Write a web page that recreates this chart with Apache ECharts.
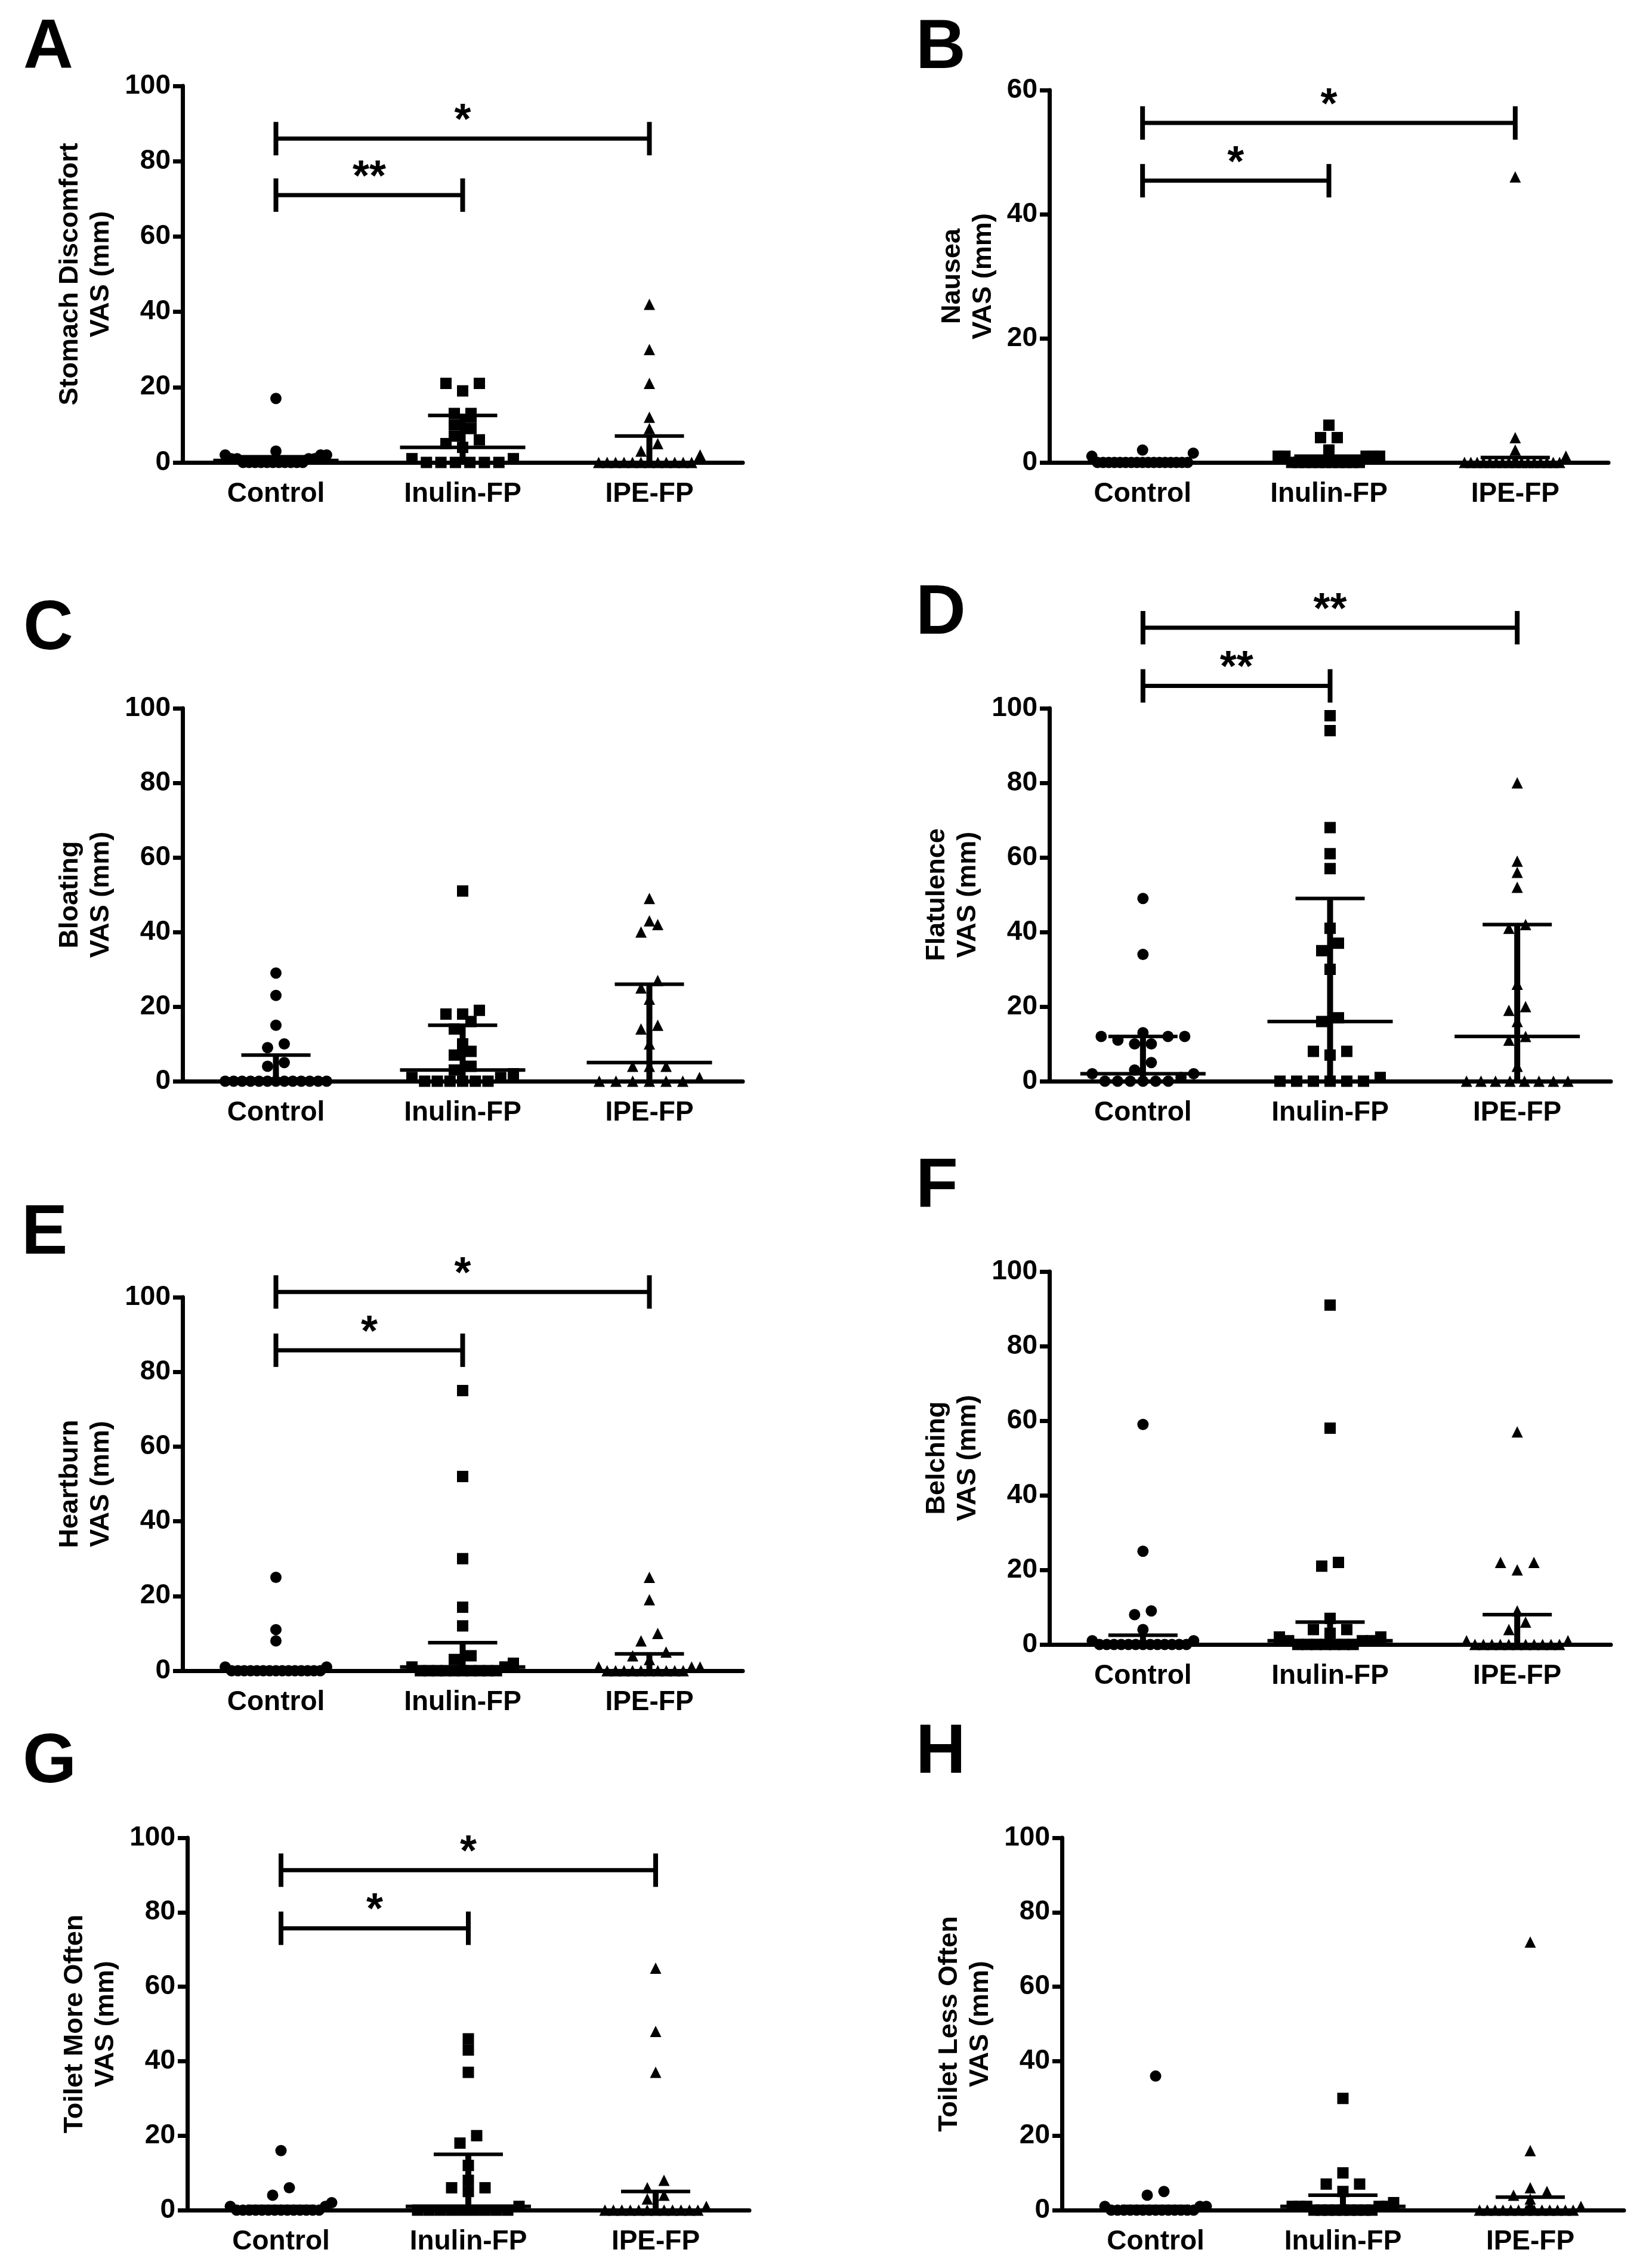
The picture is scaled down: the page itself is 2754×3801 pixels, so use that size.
<!DOCTYPE html>
<html>
<head>
<meta charset="utf-8">
<script src="https://cdn.jsdelivr.net/npm/echarts@6/dist/echarts.min.js"></script>
<style>
  html, body { margin: 0; padding: 0; background: #fff; }
  #chart { width: 2754px; height: 3801px; }
</style>
</head>
<body>
<div id="chart"></div>
<script>
const groups = ['Control', 'Inulin-FP', 'IPE-FP'];
const panelLetters = ['A', 'B', 'C', 'D', 'E', 'F', 'G', 'H'];
const axisTitles = [
  'Stomach Discomfort\nVAS (mm)', 'Nausea\nVAS (mm)',
  'Bloating\nVAS (mm)', 'Flatulence\nVAS (mm)',
  'Heartburn\nVAS (mm)', 'Belching\nVAS (mm)',
  'Toilet More Often\nVAS (mm)', 'Toilet Less Often\nVAS (mm)'
];
const yMax = [100, 60, 100, 100, 100, 100, 100, 100];

// individual scores per group: [Control, Inulin-FP, IPE-FP]
const stomachDiscomfort = [
  [17, 3, 2, 2, 2, 1, 1, 1, 1, 0, 0, 0, 0, 0, 0, 0, 0, 0, 0, 0],
  [21, 21, 19, 13, 13, 12, 10, 9, 7, 6, 5, 4, 1, 1, 0, 0, 0, 0, 0, 0],
  [42, 30, 21, 12, 9, 5, 3, 2, 0, 0, 0, 0, 0, 0, 0, 0, 0, 0, 0, 0]
];
const nausea = [
  [2, 1.5, 1, 0, 0, 0, 0, 0, 0, 0, 0, 0, 0, 0, 0, 0, 0, 0, 0, 0],
  [6, 4, 4, 2, 1, 1, 1, 1, 1, 0, 0, 0, 0, 0, 0, 0, 0, 0, 0, 0],
  [46, 4, 2, 1, 0, 0, 0, 0, 0, 0, 0, 0, 0, 0, 0, 0, 0, 0, 0, 0]
];
const bloating = [
  [29, 23, 15, 10, 9, 5, 4, 0, 0, 0, 0, 0, 0, 0, 0, 0, 0, 0, 0, 0],
  [51, 19, 18, 18, 16, 14, 10, 8, 7, 4, 3, 2, 1, 1, 0, 0, 0, 0, 0, 0],
  [49, 43, 42, 40, 27, 25, 22, 15, 14, 10, 4, 4, 4, 1, 0, 0, 0, 0, 0, 0]
];
const flatulence = [
  [49, 34, 13, 12, 12, 12, 11, 10, 10, 5, 3, 2, 2, 1, 0, 0, 0, 0, 0, 0],
  [98, 94, 68, 61, 57, 41, 37, 35, 30, 17, 16, 8, 8, 7, 1, 0, 0, 0, 0, 0, 0],
  [80, 59, 56, 52, 42, 41, 26, 20, 19, 16, 12, 11, 4, 0, 0, 0, 0, 0, 0, 0, 0]
];
const heartburn = [
  [25, 11, 8, 1, 1, 0, 0, 0, 0, 0, 0, 0, 0, 0, 0, 0, 0, 0, 0, 0],
  [75, 52, 30, 17, 12, 4, 3, 2, 1, 1, 0, 0, 0, 0, 0, 0, 0, 0, 0, 0],
  [25, 19, 10, 8, 5, 4, 3, 1, 1, 1, 0, 0, 0, 0, 0, 0, 0, 0, 0, 0]
];
const belching = [
  [59, 25, 9, 8, 4, 1, 1, 0, 0, 0, 0, 0, 0, 0, 0, 0, 0, 0, 0, 0],
  [91, 58, 22, 21, 7, 4, 4, 3, 2, 2, 1, 1, 1, 0, 0, 0, 0, 0, 0, 0],
  [57, 22, 22, 20, 9, 6, 4, 1, 1, 0, 0, 0, 0, 0, 0, 0, 0, 0, 0, 0]
];
const toiletMore = [
  [16, 6, 4, 2, 1, 1, 0, 0, 0, 0, 0, 0, 0, 0, 0, 0, 0, 0, 0, 0],
  [46, 43, 37, 20, 18, 12, 8, 6, 6, 5, 1, 0, 0, 0, 0, 0, 0, 0, 0, 0],
  [65, 48, 37, 8, 6, 4, 3, 1, 0, 0, 0, 0, 0, 0, 0, 0, 0, 0, 0, 0]
];
const toiletLess = [
  [36, 5, 4, 1, 1, 1, 0, 0, 0, 0, 0, 0, 0, 0, 0, 0, 0, 0, 0, 0],
  [30, 10, 7, 7, 5, 2, 1, 1, 1, 1, 1, 0, 0, 0, 0, 0, 0, 0, 0, 0],
  [72, 16, 6, 5, 4, 3, 1, 0, 0, 0, 0, 0, 0, 0, 0, 0, 0, 0, 0, 0]
];

// median with interquartile range per group: [q1, median, q3]
const stomachSummary = [[0, 0.5, 1.5], [0, 4, 12.5], [0, 0, 7]];
const nauseaSummary = [[0, 0, 0], [0, 0, 1], [0, 0, 0.8]];
const bloatingSummary = [[0, 0, 7], [0, 3, 15], [0, 5, 26]];
const flatulenceSummary = [[0, 2, 12], [0, 16, 49], [0, 12, 42]];
const heartburnSummary = [[0, 0, 0], [0, 1, 7.5], [0, 0, 4.5]];
const belchingSummary = [[0, 0, 2.5], [0, 1, 6], [0, 0, 8]];
const toiletMoreSummary = [[0, 0, 1], [0, 1, 15], [0, 0, 5]];
const toiletLessSummary = [[0, 0, 1], [0, 1, 4], [0, 0, 3.5]];

// significance brackets: [from group, to group, height, stars]
const stomachSig = [[0, 1, 71, '**'], [0, 2, 86, '*']];
const nauseaSig = [[0, 1, 45.4, '*'], [0, 2, 54.7, '*']];
const flatulenceSig = [[0, 1, 106, '**'], [0, 2, 121.6, '**']];
const heartburnSig = [[0, 1, 85.8, '*'], [0, 2, 101.4, '*']];
const toiletMoreSig = [[0, 1, 75.7, '*'], [0, 2, 91.3, '*']];

const panelData = [stomachDiscomfort, nausea, bloating, flatulence, heartburn, belching, toiletMore, toiletLess];
const panelSummary = [stomachSummary, nauseaSummary, bloatingSummary, flatulenceSummary,
  heartburnSummary, belchingSummary, toiletMoreSummary, toiletLessSummary];
const panelSig = [stomachSig, nauseaSig, [], flatulenceSig, heartburnSig, [], toiletMoreSig, []];

// layout (px): plot box left, top, width, height and letter position
const boxes = [
  [306, 144, 939, 631], [1759, 151, 937, 624],
  [306, 1187, 939, 625], [1759, 1187, 941, 625],
  [306, 2174, 939, 626], [1759, 2131, 941, 625],
  [314, 3080, 942, 624], [1780, 3080, 942, 624]
];
const letterPos = [
  [39, 24], [1535, 24], [39, 998], [1535, 972],
  [36, 2011], [1535, 1933], [38, 2897], [1535, 2881]
];
const symbols = ['circle', 'rect', 'triangle'];
const FONT = "'Liberation Sans', Arial, sans-serif";
const SYM = 19;

// spread points that share a row sideways, like a scatter dot plot
function swarm(values, pxPerUnit, catPx, groupIdx) {
  const sorted = values.slice().sort((a, b) => a - b);
  const out = [];
  let i = 0;
  while (i < sorted.length) {
    let j = i;
    while (j < sorted.length && (sorted[j] - sorted[i]) * pxPerUnit < 16) j++;
    const row = sorted.slice(i, j);
    const n = row.length;
    const step = n > 1 ? Math.min(28, 170 / (n - 1)) : 0;
    const slots = row.map((_, k) => k - (n - 1) / 2)
      .sort((a, b) => Math.abs(a) - Math.abs(b) || a - b);
    row.forEach((v, k) => out.push([groupIdx + slots[k] * step / catPx, v]));
    i = j;
  }
  return out;
}

const grid = [], xAxis = [], yAxis = [], series = [], title = [];

boxes.forEach((b, p) => {
  grid.push({ left: b[0], top: b[1], width: b[2], height: b[3], outerBoundsMode: 'none' });
  title.push({
    text: panelLetters[p], left: letterPos[p][0], top: letterPos[p][1], padding: 0,
    textStyle: { fontSize: 116, fontWeight: 'bold', fontFamily: FONT, color: '#000' }
  });
  xAxis.push({
    type: 'category', gridIndex: p, data: groups, boundaryGap: true,
    axisLine: { onZero: false, lineStyle: { color: '#000', width: 7 } },
    axisTick: { alignWithLabel: true, length: 16, lineStyle: { color: '#000', width: 7 } },
    axisLabel: { margin: 30, fontSize: 46, fontWeight: 'bold', fontFamily: FONT, color: '#000' },
    splitLine: { show: false }
  });
  xAxis.push({ type: 'value', gridIndex: p, min: -0.5, max: 2.5, show: false });
  yAxis.push({
    type: 'value', gridIndex: p, min: 0, max: yMax[p], interval: 20,
    name: axisTitles[p], nameLocation: 'middle', nameRotate: 90,
    nameGap: p === 1 ? 84 : 110,
    nameTextStyle: { fontSize: 45, fontWeight: 'bold', fontFamily: FONT, color: '#000', lineHeight: 52 },
    axisLine: { show: true, onZero: false, lineStyle: { color: '#000', width: 7 } },
    axisTick: { show: true, length: 16, lineStyle: { color: '#000', width: 7 } },
    axisLabel: { margin: 20, fontSize: 46, fontWeight: 'bold', fontFamily: FONT, color: '#000' },
    splitLine: { show: false }
  });

  const pxPerUnit = b[3] / yMax[p];
  const catPx = b[2] / 3;
  panelData[p].forEach((vals, g) => {
    series.push({
      type: 'scatter', xAxisIndex: 2 * p + 1, yAxisIndex: p,
      symbol: symbols[g], symbolSize: SYM, clip: false, silent: true, z: 3,
      itemStyle: { color: '#000', opacity: 1 },
      data: swarm(vals, pxPerUnit, catPx, g)
    });
  });

  const summ = panelSummary[p];
  series.push({
    type: 'custom', xAxisIndex: 2 * p + 1, yAxisIndex: p, clip: false, silent: true, z: 5,
    data: summ.map((s, g) => [g, s[0], s[1], s[2]]),
    renderItem: (params, api) => {
      const x = api.value(0);
      const lo = api.coord([x, api.value(1)]);
      const med = api.coord([x, api.value(2)]);
      const hi = api.coord([x, api.value(3)]);
      const bar = { stroke: '#000', lineWidth: 6 };
      return {
        type: 'group', children: [
          { type: 'line', shape: { x1: lo[0], y1: lo[1], x2: hi[0], y2: hi[1] }, style: { stroke: '#000', lineWidth: 10 } },
          { type: 'line', shape: { x1: med[0] - 105, y1: med[1], x2: med[0] + 105, y2: med[1] }, style: bar },
          { type: 'line', shape: { x1: hi[0] - 58, y1: hi[1], x2: hi[0] + 58, y2: hi[1] }, style: bar },
          { type: 'line', shape: { x1: lo[0] - 58, y1: lo[1], x2: lo[0] + 58, y2: lo[1] }, style: bar }
        ]
      };
    }
  });

  const sig = panelSig[p];
  if (sig.length) {
    series.push({
      type: 'custom', xAxisIndex: 2 * p + 1, yAxisIndex: p, clip: false, silent: true, z: 5,
      data: sig.map(s => [s[0], s[1], s[2]]),
      renderItem: (params, api) => {
        const a = api.coord([api.value(0), api.value(2)]);
        const c = api.coord([api.value(1), api.value(2)]);
        const st = { stroke: '#000', lineWidth: 7 };
        return {
          type: 'group', children: [
            { type: 'line', shape: { x1: a[0], y1: a[1], x2: c[0], y2: c[1] }, style: st },
            { type: 'line', shape: { x1: a[0], y1: a[1] - 28, x2: a[0], y2: a[1] + 28 }, style: { stroke: '#000', lineWidth: 8 } },
            { type: 'line', shape: { x1: c[0], y1: c[1] - 28, x2: c[0], y2: c[1] + 28 }, style: { stroke: '#000', lineWidth: 8 } },
            {
              type: 'text', style: {
                text: sig[params.dataIndex][3], x: (a[0] + c[0]) / 2, y: a[1] + 8,
                textAlign: 'center', textVerticalAlign: 'bottom', verticalAlign: 'bottom',
                font: 'bold 72px ' + FONT, fill: '#000'
              }
            }
          ]
        };
      }
    });
  }
});

const chart = echarts.init(document.getElementById('chart'), null, { renderer: 'canvas' });
chart.setOption({
  backgroundColor: '#fff',
  animation: false,
  title, grid, xAxis, yAxis, series
});
</script>
</body>
</html>
